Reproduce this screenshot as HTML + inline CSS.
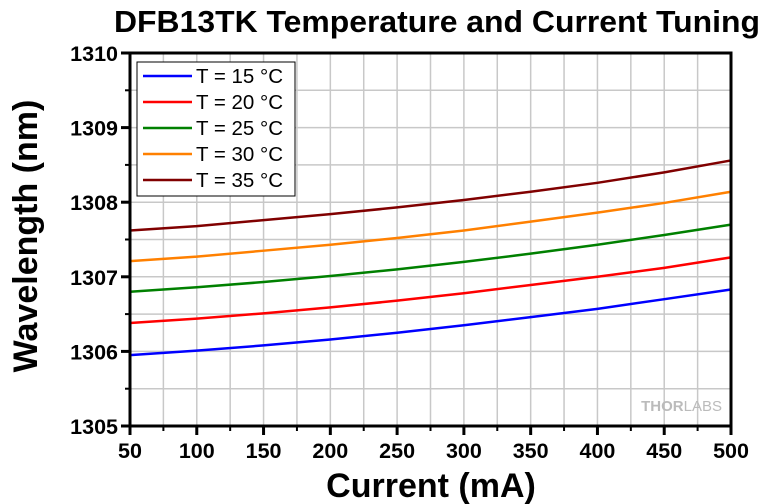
<!DOCTYPE html>
<html><head><meta charset="utf-8"><style>
body{margin:0;background:#fff}
svg{display:block;font-family:"Liberation Sans",Arial,sans-serif}
</style></head><body>
<svg id="chart" width="780" height="504" viewBox="0 0 780 504" xmlns="http://www.w3.org/2000/svg">
<text x="437" y="32" text-anchor="middle" font-size="31" font-weight="bold" textLength="646" lengthAdjust="spacingAndGlyphs">DFB13TK Temperature and Current Tuning</text>
<g id="grid"></g>
<g id="series"></g>
<g id="axes"></g>
<text x="431" y="497" text-anchor="middle" font-size="34" font-weight="bold">Current (mA)</text>
<text transform="translate(37,236) rotate(-90)" text-anchor="middle" font-size="34" font-weight="bold">Wavelength (nm)</text>
<text x="722" y="411" text-anchor="end" font-size="15" font-weight="bold" fill="#bbb">THOR<tspan font-weight="normal">LABS</tspan></text>
<g>
<rect x="137" y="62" width="158" height="134" fill="#fff" stroke="#000" stroke-width="1"/>
<g id="legend-items"></g>
</g>
</svg>
<script>
const currents=[50,100,150,200,250,300,350,400,450,500];
const labels=["T = 15 °C","T = 20 °C","T = 25 °C","T = 30 °C","T = 35 °C"];
const colors=["#0000ff","#ff0000","#008000","#ff8000","#800000"];
const s15=[1305.95,1306.01,1306.08,1306.16,1306.25,1306.35,1306.46,1306.57,1306.70,1306.83];
const s20=[1306.38,1306.44,1306.51,1306.59,1306.68,1306.78,1306.89,1307.00,1307.12,1307.26];
const s25=[1306.80,1306.86,1306.93,1307.01,1307.10,1307.20,1307.31,1307.43,1307.56,1307.70];
const s30=[1307.21,1307.27,1307.35,1307.43,1307.52,1307.62,1307.74,1307.86,1307.99,1308.14];
const s35=[1307.62,1307.68,1307.76,1307.84,1307.93,1308.03,1308.14,1308.26,1308.40,1308.56];
const xTicks=[50,100,150,200,250,300,350,400,450,500];
const yTicks=[1305,1306,1307,1308,1309,1310];
const series=[s15,s20,s25,s30,s35];
const X0=130,X1=731,Y0=426,Y1=53;
const x=v=>X0+(v-50)/450*(X1-X0);
const y=v=>Y0-(v-1305)/5*(Y0-Y1);
const NS="http://www.w3.org/2000/svg";
function mk(t,a,p){const e=document.createElementNS(NS,t);for(const k in a)e.setAttribute(k,a[k]);p.appendChild(e);return e;}
const grid=document.getElementById('grid'),axes=document.getElementById('axes'),sg=document.getElementById('series');
for(let v=75;v<500;v+=25){const l=mk('line',{x1:x(v),x2:x(v),y1:Y1,y2:Y0,stroke:'#c8c8c8','stroke-width':1.5},grid);

}
for(let v=1305.5;v<1310;v+=0.5){const l=mk('line',{x1:X0,x2:X1,y1:y(v),y2:y(v),stroke:'#c8c8c8','stroke-width':1.5},grid);

}
series.forEach((s,i)=>{const p=mk('polyline',{points:s.map((v,j)=>x(currents[j])+','+y(v)).join(' '),fill:'none',stroke:colors[i],'stroke-width':2.5},sg);

});
mk('rect',{x:X0,y:Y1,width:X1-X0,height:Y0-Y1,fill:'none',stroke:'#000','stroke-width':3},axes);
xTicks.forEach(v=>{mk('line',{x1:x(v),x2:x(v),y1:Y0,y2:Y0+9,stroke:'#000','stroke-width':3},axes);
const t=mk('text',{x:x(v),y:Y0+32,'text-anchor':'middle','font-size':21.5,'font-weight':'bold'},axes);t.textContent=v;

});
for(let v=75;v<500;v+=50)mk('line',{x1:x(v),x2:x(v),y1:Y0,y2:Y0+5,stroke:'#000','stroke-width':2},axes);
yTicks.forEach(v=>{mk('line',{x1:X0-9,x2:X0,y1:y(v),y2:y(v),stroke:'#000','stroke-width':3},axes);
const t=mk('text',{x:X0-12,y:y(v)+8,'text-anchor':'end','font-size':21.5,'font-weight':'bold'},axes);t.textContent=v;

});
for(let v=1305.5;v<1310;v+=1)mk('line',{x1:X0-5,x2:X0,y1:y(v),y2:y(v),stroke:'#000','stroke-width':2},axes);
const lg=document.getElementById('legend-items');
labels.forEach((lb,i)=>{const yy=76+i*26;
const g=mk('g',{},lg);


mk('line',{x1:143,x2:192,y1:yy,y2:yy,stroke:colors[i],'stroke-width':2.5},g);
const t=mk('text',{x:196,y:yy+7,'font-size':20.5},g);t.textContent=lb;});
</script>
</body></html>
